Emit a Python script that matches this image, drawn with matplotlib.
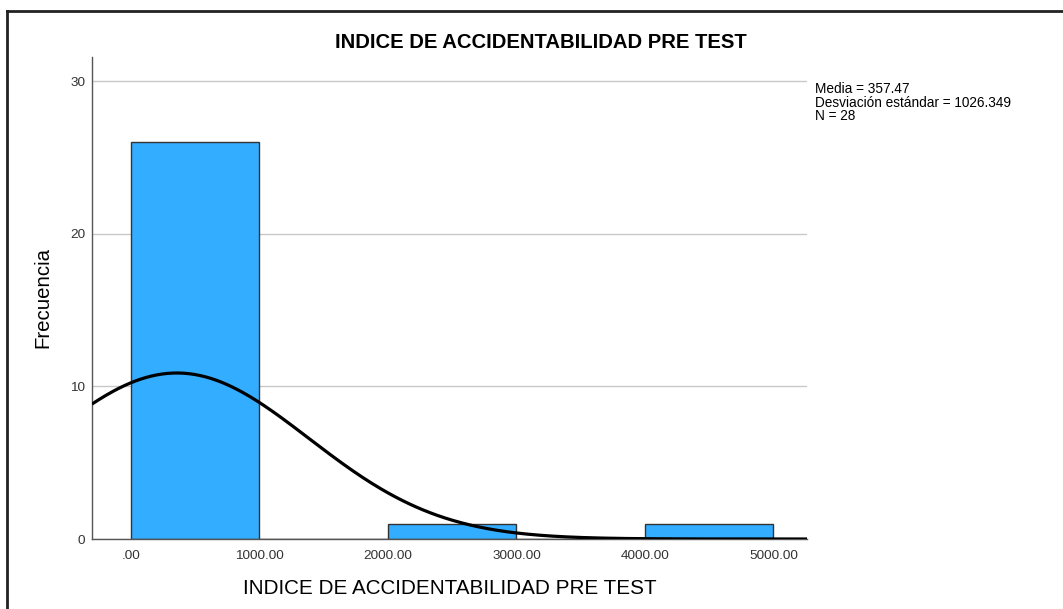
import numpy as np
import matplotlib
matplotlib.use("Agg")
import matplotlib.pyplot as plt
from matplotlib.lines import Line2D

plt.rcParams['font.family'] = ['Liberation Sans', 'DejaVu Sans']

# histogram data (bin edges and counts)
bin_left = [0, 1000, 2000, 3000, 4000]
counts = [26, 0, 1, 0, 1]
bin_width = 1000

# stats shown by SPSS
media = 357.47
desv = 1026.349
n = 28

xticks = [0, 1000, 2000, 3000, 4000, 5000]
xtick_labels = ['.00', '1000.00', '2000.00', '3000.00', '4000.00', '5000.00']
yticks = [0, 10, 20, 30]

fig = plt.figure(figsize=(10.63, 6.09), dpi=100)
ax = fig.add_axes([92/1063, 70/609, (807-92)/1063, (539-57)/609])

ax.bar(bin_left, counts, width=bin_width, align='edge', color='#33adff',
       edgecolor='#333333', linewidth=1.0, zorder=2)

xs = np.linspace(-303, 5261, 400)
ys = n * bin_width * np.exp(-0.5*((xs-media)/desv)**2) / (desv*np.sqrt(2*np.pi))
ax.plot(xs, ys, color='black', lw=2.3, zorder=3, solid_capstyle='butt')

ax.set_xlim(-303, 5261)
ax.set_ylim(0, 31.6)
ax.set_xticks(xticks)
ax.set_xticklabels(xtick_labels)
ax.set_yticks(yticks)
ax.tick_params(axis='both', length=0, labelsize=9.7, labelcolor='#333333')
ax.tick_params(axis='x', pad=8)
ax.tick_params(axis='y', pad=5)
ax.grid(axis='y', color='#c8c8c8', lw=1.0, zorder=0)
ax.set_axisbelow(True)
for s in ['top', 'right']:
    ax.spines[s].set_visible(False)
for s in ['left', 'bottom']:
    ax.spines[s].set_color('#555555')
    ax.spines[s].set_linewidth(1.0)

ax.set_xlabel('INDICE DE ACCIDENTABILIDAD PRE TEST', fontsize=14.9, labelpad=12)
ax.set_ylabel('Frecuencia', fontsize=14.7)
ax.yaxis.set_label_coords((52-92)/(807-92), 0.5)

fig.text(541/1063, 1-43/609, 'INDICE DE ACCIDENTABILIDAD PRE TEST',
         ha='center', va='center', fontsize=14.6, fontweight='bold')

fig.text(815/1063, 1-82/609,
         'Media = {:.2f}\nDesviación estándar = {:.3f}\nN = {}'.format(media, desv, n),
         ha='left', va='top', fontsize=9.8, linespacing=0.97)

# partial frame (top and left edges)
fig.add_artist(Line2D([7/1063, 7/1063], [0, 1-11/609], transform=fig.transFigure,
                      color='#222222', lw=2))
fig.add_artist(Line2D([7/1063, 1], [1-11/609, 1-11/609], transform=fig.transFigure,
                      color='#222222', lw=2))

fig.savefig('out.png', dpi=100)
